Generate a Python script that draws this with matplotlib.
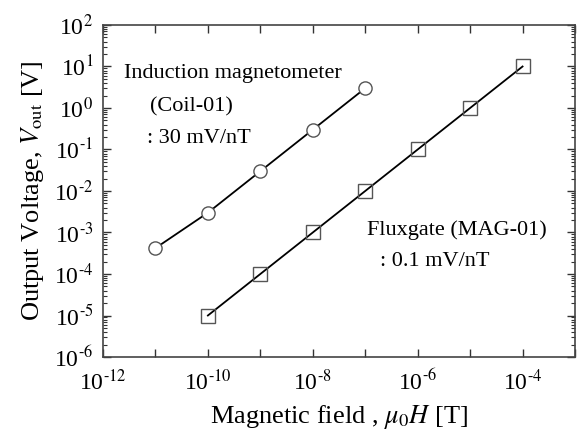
import numpy as np
import matplotlib.pyplot as plt
from matplotlib.ticker import FixedLocator, FuncFormatter, LogLocator, NullLocator

plt.rcParams['font.family'] = 'Liberation Serif'
plt.rcParams['mathtext.fontset'] = 'stix'

# Induction magnetometer (Coil-01)
coil_B = [1e-11, 1e-10, 1e-9, 1e-8, 1e-7]
coil_V = [4.2e-4, 3e-3, 3e-2, 3e-1, 3.0]

# Fluxgate (MAG-01)
flux_B = [1e-10, 1e-9, 1e-8, 1e-7, 1e-6, 1e-5, 1e-4]
flux_V = [1e-5, 1e-4, 1e-3, 1e-2, 1e-1, 1.0, 10.0]

fig = plt.figure(figsize=(5.78, 4.36), dpi=100)
ax = fig.add_axes([103/578, 79/436, 472/578, 332/436])

ax.plot(coil_B, coil_V, '-', color='black', lw=1.3, zorder=2)
ax.plot(coil_B, coil_V, 'o', ms=9.5, mfc='white', mec='#555555', mew=1.0, zorder=3)
ax.plot(flux_B, flux_V, '-', color='black', lw=1.3, zorder=2)
ax.plot(flux_B, flux_V, 's', ms=10, mfc='none', mec='#555555', mew=1.0, zorder=3)

ax.set_xscale('log')
ax.set_yscale('log')
ax.set_xlim(1e-12, 1e-3)
ax.set_ylim(1e-6, 1e2)

def power(v):
    return r'10$^{\text{%d}}$' % int(round(np.log10(v)))

def xfmt(v, pos):
    e = int(round(np.log10(v)))
    return '' if e % 2 else power(v)

ax.xaxis.set_major_locator(FixedLocator([10.0**k for k in range(-12, -2)]))
ax.xaxis.set_major_formatter(FuncFormatter(xfmt))
ax.xaxis.set_minor_locator(NullLocator())
ax.yaxis.set_major_locator(FixedLocator([10.0**k for k in range(-6, 3)]))
ax.yaxis.set_major_formatter(FuncFormatter(lambda v, p: power(v)))
ax.yaxis.set_minor_locator(LogLocator(base=10, subs=np.arange(2, 10), numticks=20))

ax.tick_params(which='both', direction='in', top=True, right=True, color='#333333')
ax.tick_params(which='major', length=6, width=1.0, labelsize=17)
ax.tick_params(axis='x', which='major', pad=9)
ax.tick_params(axis='y', which='major', pad=7)
ax.tick_params(which='minor', length=3, width=0.8)
for s in ax.spines.values():
    s.set_color('#444444')
    s.set_linewidth(1.2)

ax.set_xlabel(r'Magnetic field , $\mu_0H$ [T]', fontsize=19, labelpad=6)
ax.set_ylabel(r'Output Voltage, $V_{\rm out}$ [V]', fontsize=19, labelpad=6)

ax.text(3.0e-10, 6.6, 'Induction magnetometer', fontsize=16, ha='center', va='center')
ax.text(4.8e-11, 1.06, '(Coil-01)', fontsize=16, ha='center', va='center')
ax.text(6.9e-12, 0.18, ': 30 mV/nT', fontsize=16, ha='left', va='center')
ax.text(5.5e-6, 1.15e-3, 'Fluxgate (MAG-01)', fontsize=16, ha='center', va='center')
ax.text(1.95e-7, 1.95e-4, ': 0.1 mV/nT', fontsize=16, ha='left', va='center')

fig.savefig('out.png', dpi=100)
